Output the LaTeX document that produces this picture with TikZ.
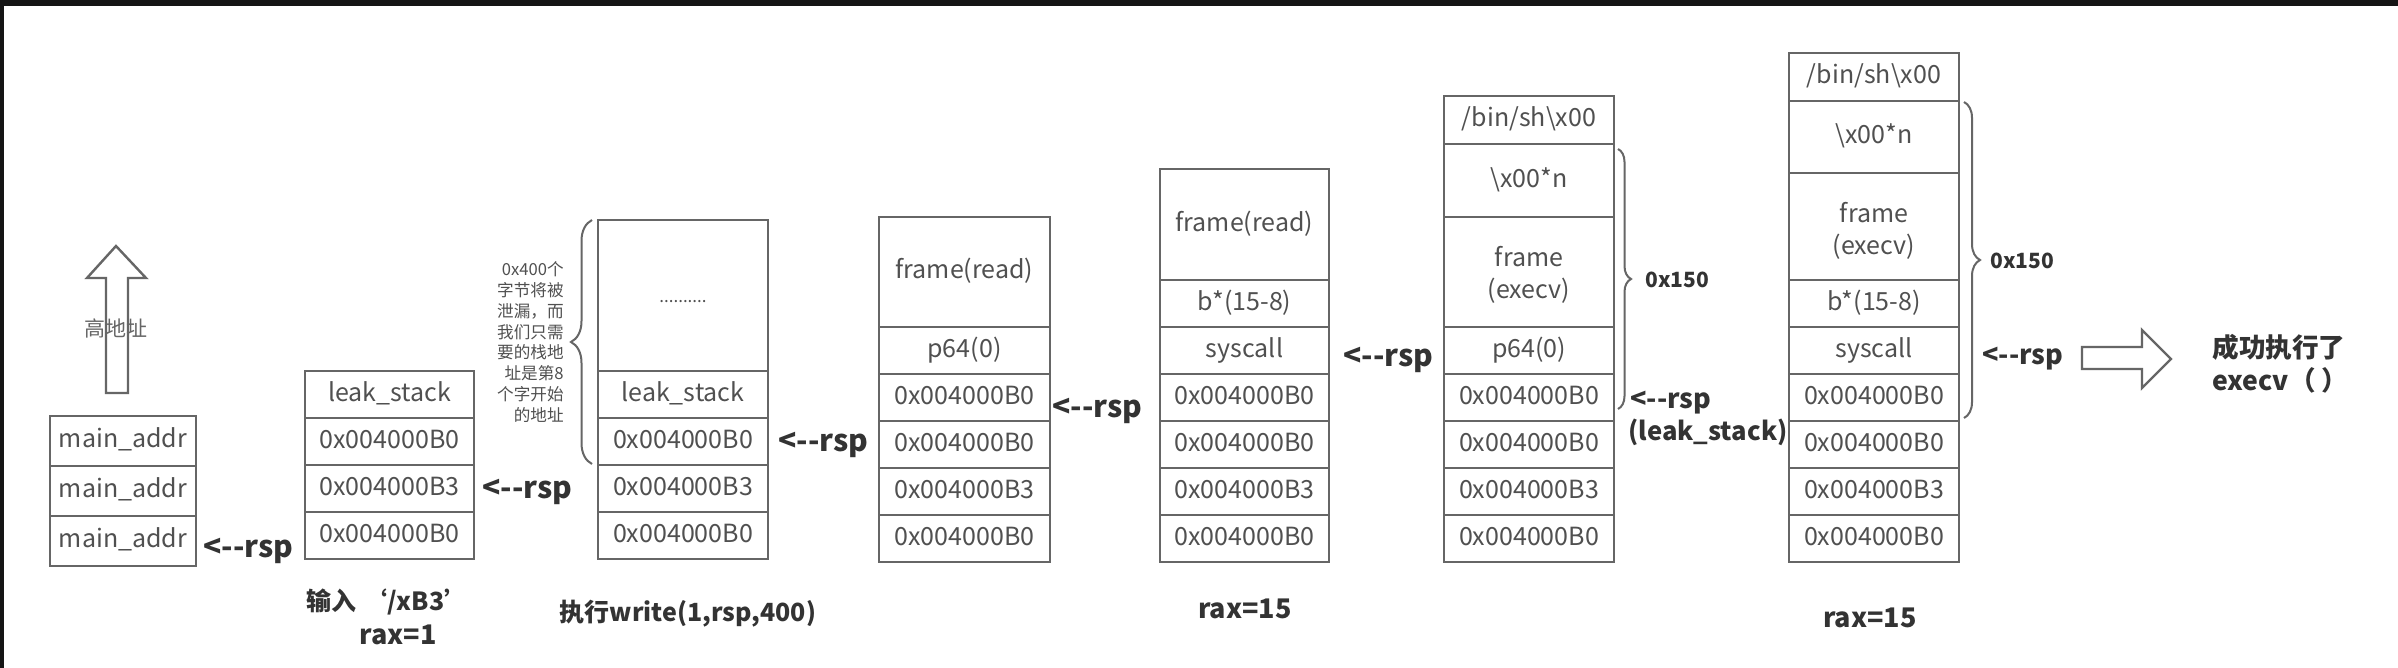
\documentclass[tikz,border=0pt]{standalone}
\usepackage{fontspec}
\setmainfont{Noto Sans CJK SC}
\usetikzlibrary{decorations.pathreplacing}
\definecolor{linec}{HTML}{666666}
\definecolor{txtc}{HTML}{505050}
\definecolor{boldc}{HTML}{333333}
\definecolor{barc}{HTML}{151515}
\newcommand\stc[6]{\node[cell,minimum width={(#3-#2)*0.5pt},minimum height={(#5-#4)*0.5pt}] (#1) at ({(#2+#3)/2},{(#4+#5)/2}) {#6};}
\newcommand\rspt{<-\kern0pt-rsp}
\newcommand\bs{\textbackslash}
\begin{document}
\begin{tikzpicture}[x=0.5pt,y=-0.5pt,
  cell/.style={draw=linec,line width=1pt,inner sep=0pt,text=txtc,font=\fontsize{12.5}{15}\selectfont,text height=0.66em,text depth=0pt},
  celltxt/.style={inner sep=0pt,text=txtc,font=\fontsize{12.5}{15}\selectfont,text height=0.66em,text depth=0pt},
  rsplab/.style={anchor=west,inner sep=0pt,text=boldc,font=\fontsize{15}{17}\selectfont\bfseries},
  rspsmall/.style={anchor=west,inner sep=0pt,text=boldc,font=\fontsize{13.5}{15}\selectfont\bfseries},
  caption/.style={inner sep=0pt,text=boldc,font=\fontsize{13.5}{15}\selectfont\bfseries},
  capcjk/.style={inner sep=0pt,text=boldc,font=\fontsize{12.5}{14}\selectfont\bfseries},
  sizelab/.style={anchor=west,inner sep=0pt,text=boldc,font=\fontsize{10.5}{12}\selectfont\bfseries},
  bracec/.style={draw=linec,line width=1pt,decorate,decoration={brace,amplitude=#1}},
  hollow/.style={draw=linec,line width=1.2pt,fill=white}]
\useasboundingbox (0,0) rectangle (2398,668);
\fill[white] (0,0) rectangle (2398,668);
\fill[barc] (0,0) rectangle (2398,6);
\fill[barc] (0,0) rectangle (4,668);

% up arrow
\draw[hollow] (116,246) -- (146,278) -- (128,278) -- (128,393) -- (106,393) -- (106,278) -- (87,278) -- cycle;
\node[inner sep=0pt,text=linec,font=\fontsize{10.5}{12}\selectfont] (high) at (116,328) {高地址};

% stack 1
\stc{a1}{50}{196}{416}{466}{main\_addr}
\stc{a2}{50}{196}{466}{516}{main\_addr}
\stc{a3}{50}{196}{516}{566}{main\_addr}
\node[rsplab] (r1) at (203,551) {\rspt};

% stack 2
\stc{b1}{305}{474}{371}{418}{leak\_stack}
\stc{b2}{305}{474}{418}{465}{0x004000B0}
\stc{b3}{305}{474}{465}{512}{0x004000B3}
\stc{b4}{305}{474}{512}{559}{0x004000B0}
\node[rsplab] (r2) at (482,492) {\rspt};
\node[capcjk] (c2a) at (388,602) {输入 ‘/xB3’};
\node[caption] (c2b) at (398,635) {rax=1};

% stack 3
\stc{c0}{598}{768}{220}{371}{\fontsize{8.5}{10}\selectfont ..........}
\stc{c1}{598}{768}{371}{418}{leak\_stack}
\stc{c2}{598}{768}{418}{465}{0x004000B0}
\stc{c3}{598}{768}{465}{512}{0x004000B3}
\stc{c4}{598}{768}{512}{559}{0x004000B0}
\node[rsplab] (r3) at (778,445) {\rspt};
\node[capcjk] (c3a) at (688,614) {执行write(1,rsp,400)};
\draw[bracec=10.5pt] (592,464) -- (592,220);
\node[anchor=east,inner sep=0pt,align=right,text=txtc,font=\fontsize{8.3}{10.45}\selectfont] (note) at (564,342)
  {0x400个\\字节将被\\泄漏，而\\我们只需\\要的栈地\\址是第8\\个字开始\\的地址};

% stack 4
\stc{d0}{879}{1050}{217}{327}{frame(read)}
\stc{d1}{879}{1050}{327}{374}{p64(0)}
\stc{d2}{879}{1050}{374}{421}{0x004000B0}
\stc{d3}{879}{1050}{421}{468}{0x004000B0}
\stc{d4}{879}{1050}{468}{515}{0x004000B3}
\stc{d5}{879}{1050}{515}{562}{0x004000B0}
\node[rsplab] (r4) at (1052,411) {\rspt};

% stack 5
\stc{e0}{1160}{1329}{169}{280}{frame(read)}
\stc{e1}{1160}{1329}{280}{327}{b*(15-8)}
\stc{e2}{1160}{1329}{327}{374}{syscall}
\stc{e3}{1160}{1329}{374}{421}{0x004000B0}
\stc{e4}{1160}{1329}{421}{468}{0x004000B0}
\stc{e5}{1160}{1329}{468}{515}{0x004000B3}
\stc{e6}{1160}{1329}{515}{562}{0x004000B0}
\node[rsplab] (r5) at (1343,360) {\rspt};
\node[caption] (c5) at (1245,609) {rax=15};

% stack 6
\stc{f0}{1444}{1614}{96}{144}{/bin/sh\bs x00}
\stc{f1}{1444}{1614}{144}{217}{\bs x00*n}
\stc{f2}{1444}{1614}{217}{327}{}
\node[celltxt,yshift=6pt] (f2a) at (f2.center) {frame};
\node[celltxt,yshift=-10pt] (f2b) at (f2.center) {(execv)};
\stc{f3}{1444}{1614}{327}{374}{p64(0)}
\stc{f4}{1444}{1614}{374}{421}{0x004000B0}
\stc{f5}{1444}{1614}{421}{468}{0x004000B0}
\stc{f6}{1444}{1614}{468}{515}{0x004000B3}
\stc{f7}{1444}{1614}{515}{562}{0x004000B0}
\draw[bracec=6.5pt] (1618,149) -- (1618,409);
\node[sizelab] (s6) at (1645,280) {0x150};
\node[rspsmall] (r6) at (1630,403) {\rspt};
\node[rspsmall,font=\fontsize{12.8}{14}\selectfont\bfseries] (r6b) at (1628,432) {(leak\_stack)};

% stack 7
\stc{g0}{1789}{1959}{53}{101}{/bin/sh\bs x00}
\stc{g1}{1789}{1959}{101}{173}{\bs x00*n}
\stc{g2}{1789}{1959}{173}{280}{}
\node[celltxt,yshift=5.5pt] (g2a) at (g2.center) {frame};
\node[celltxt,yshift=-10.5pt] (g2b) at (g2.center) {(execv)};
\stc{g3}{1789}{1959}{280}{327}{b*(15-8)}
\stc{g4}{1789}{1959}{327}{374}{syscall}
\stc{g5}{1789}{1959}{374}{421}{0x004000B0}
\stc{g6}{1789}{1959}{421}{468}{0x004000B0}
\stc{g7}{1789}{1959}{468}{515}{0x004000B3}
\stc{g8}{1789}{1959}{515}{562}{0x004000B0}
\draw[bracec=8pt] (1964,102) -- (1964,418);
\node[sizelab] (s7) at (1990,261) {0x150};
\node[rspsmall] (r7) at (1982,359) {\rspt};
\node[caption] (c7) at (1870,618) {rax=15};

% result arrow
\draw[hollow] (2082,347) -- (2142,347) -- (2142,330) -- (2171,359) -- (2142,388) -- (2142,369) -- (2082,369) -- cycle;
\node[anchor=west,inner sep=0pt,text=boldc,font=\fontsize{13.3}{15}\selectfont\bfseries] (ok1) at (2212,347) {成功执行了};
\node[anchor=west,inner sep=0pt,text=boldc,font=\fontsize{13.3}{15}\selectfont\bfseries] (ok2) at (2212,380) {execv（ ）};
\end{tikzpicture}
\end{document}
